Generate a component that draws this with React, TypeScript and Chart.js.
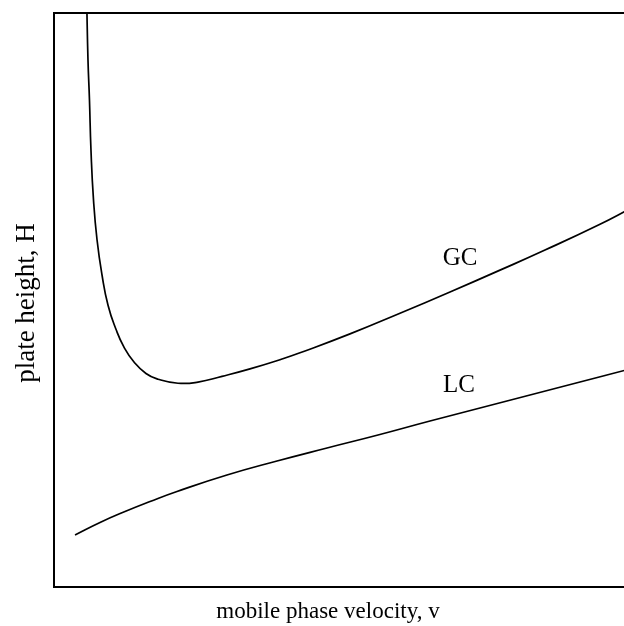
import React, { useEffect, useRef } from "react";
import { Chart, registerables } from "chart.js";

Chart.register(...registerables);

// Mobile phase velocity (arbitrary units) and plate height (arbitrary units)
const gcVelocity = [0.568, 0.59, 0.616, 0.642, 0.686, 0.747, 0.833, 0.938, 1.076, 1.215, 1.389, 1.597, 1.806, 2.153, 2.5, 2.917, 3.403, 3.924, 4.271, 5.139, 6.007, 6.875, 7.743, 8.524, 9.479, 10.0];
const gcHeight = [10.2, 9.18, 8.48, 7.61, 6.74, 6.05, 5.44, 4.91, 4.49, 4.18, 3.92, 3.72, 3.62, 3.55, 3.57, 3.67, 3.8, 3.96, 4.08, 4.41, 4.77, 5.14, 5.52, 5.87, 6.32, 6.59];

const lcVelocity = [0.365, 0.799, 1.233, 1.667, 2.135, 3.003, 3.872, 4.74, 5.625, 6.528, 7.396, 8.264, 9.132, 10.0];
const lcHeight = [0.906, 1.124, 1.315, 1.489, 1.664, 1.951, 2.195, 2.422, 2.648, 2.892, 3.118, 3.345, 3.571, 3.798];

const curveLabels = ["GC", "LC"];
const labelVelocity = [7.05, 7.03];
const labelHeight = [5.73, 3.52];

const xTitle = "mobile phase velocity, v";
const yTitle = "plate height, H";

export default function App() {
  const ref = useRef<HTMLCanvasElement | null>(null);

  useEffect(() => {
    document.documentElement.style.overflow = "hidden";
    document.body.style.overflow = "hidden";
    const canvas = ref.current;
    if (!canvas) return;

    const decor = {
      id: "decor",
      afterDraw(chart: any) {
        const { ctx, chartArea, scales } = chart;
        ctx.save();
        ctx.strokeStyle = "#000";
        ctx.lineWidth = 2;
        ctx.strokeRect(chartArea.left, chartArea.top, chartArea.right - chartArea.left, chartArea.bottom - chartArea.top);

        ctx.fillStyle = "#000";
        ctx.textAlign = "center";
        ctx.textBaseline = "middle";
        ctx.font = "25px 'Liberation Serif', 'Times New Roman', serif";
        curveLabels.forEach((t, i) => {
          ctx.fillText(t, scales.x.getPixelForValue(labelVelocity[i]), scales.y.getPixelForValue(labelHeight[i]));
        });

        ctx.font = "23px 'Liberation Serif', 'Times New Roman', serif";
        ctx.fillText(xTitle, 328, 612);

        ctx.save();
        ctx.translate(27, 303);
        ctx.rotate(-Math.PI / 2);
        ctx.font = "27px 'Liberation Serif', 'Times New Roman', serif";
        ctx.fillText(yTitle, 0, 0);
        ctx.restore();
        ctx.restore();
      },
    };

    const common = {
      borderColor: "#000",
      borderWidth: 1.7,
      pointRadius: 0,
      tension: 0.5,
      fill: false,
    };

    const chart = new Chart(canvas, {
      type: "line",
      data: {
        datasets: [
          { label: "GC", data: gcVelocity.map((v, i) => ({ x: v, y: gcHeight[i] })), ...common },
          { label: "LC", data: lcVelocity.map((v, i) => ({ x: v, y: lcHeight[i] })), ...common },
        ],
      },
      options: {
        responsive: false,
        animation: false,
        layout: { padding: { left: 54, top: 13, bottom: 39, right: 10 } },
        plugins: { legend: { display: false }, tooltip: { enabled: false } },
        scales: {
          x: { type: "linear", min: 0, max: 10, display: false },
          y: { type: "linear", min: 0, max: 10, display: false },
        },
      },
      plugins: [decor],
    });
    return () => chart.destroy();
  }, []);

  return (
    <div style={{ position: "absolute", left: 0, top: 0, width: 624, height: 626, overflow: "hidden", background: "#fff" }}>
      <canvas ref={ref} width={640} height={626} style={{ width: 640, height: 626, display: "block" }} />
    </div>
  );
}
